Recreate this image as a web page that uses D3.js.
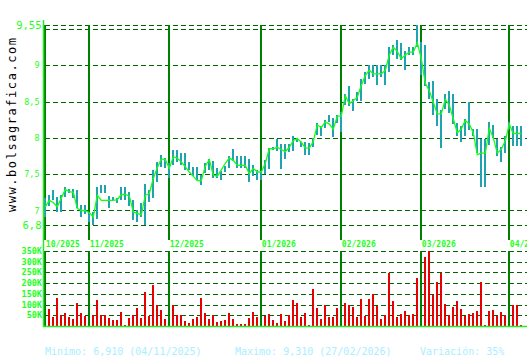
<!DOCTYPE html>
<html><head><meta charset="utf-8">
<script src="https://cdn.jsdelivr.net/npm/d3@7"></script>
<style>html,body{margin:0;padding:0;background:#fff;}svg{display:block;}</style>
</head><body>
<script>
const closes = [7.05,7.14,7.11,7.05,7.17,7.29,7.26,7.25,7.03,7.00,7.00,6.97,6.91,7.21,7.14,7.14,7.14,7.14,7.15,7.22,7.22,7.20,6.98,6.96,6.94,7.21,7.23,7.44,7.59,7.71,7.70,7.58,7.74,7.72,7.67,7.60,7.53,7.47,7.41,7.41,
7.61,7.70,7.49,7.47,7.56,7.65,7.72,7.69,7.62,7.62,7.62,7.51,7.58,7.53,7.53,7.65,7.85,7.85,7.87,7.84,7.81,7.87,7.96,7.99,7.94,7.86,7.86,7.95,8.18,8.14,8.22,8.19,8.12,8.30,8.30,8.58,8.47,8.51,8.56,
8.72,8.86,8.93,8.88,8.88,8.88,8.93,9.14,9.25,9.19,9.09,9.14,9.18,9.18,9.31,9.09,8.75,8.65,8.49,8.33,8.33,8.53,8.45,8.26,8.07,8.12,8.24,8.19,8.07,7.77,7.79,7.79,8.13,8.00,7.79,7.84,7.96,8.19,8.06,8.06,8.06];
const highs = [7.17,7.22,7.28,7.19,7.21,7.33,7.30,7.30,7.28,7.07,7.07,6.97,6.98,7.33,7.35,7.35,7.20,7.19,7.17,7.32,7.32,7.26,7.14,7.00,7.10,7.37,7.28,7.56,7.67,7.76,7.72,7.65,7.83,7.83,7.79,7.79,7.67,7.60,7.60,7.49,
7.65,7.71,7.68,7.58,7.55,7.61,7.75,7.84,7.75,7.75,7.75,7.71,7.62,7.56,7.54,7.70,7.86,7.88,7.98,7.92,7.91,7.92,8.02,8.00,7.94,7.94,7.93,8.00,8.21,8.16,8.25,8.31,8.28,8.32,8.36,8.61,8.72,8.53,8.63,
8.81,8.91,9.00,9.00,9.00,9.00,9.00,9.25,9.28,9.35,9.31,9.19,9.25,9.25,9.55,9.32,9.28,8.77,8.78,8.53,8.38,8.61,8.65,8.61,8.21,8.16,8.26,8.50,8.12,8.12,7.98,7.98,8.22,8.18,7.98,7.87,8.03,8.22,8.17,8.17,8.17];
const lows = [6.91,7.07,7.14,6.98,6.98,7.19,7.24,7.17,7.03,6.91,6.94,6.85,6.80,6.89,7.24,7.24,7.03,7.14,7.10,7.14,7.14,7.07,6.87,6.83,6.91,6.81,7.12,7.17,7.40,7.60,7.58,7.44,7.63,7.67,7.63,7.56,7.56,7.47,7.42,7.35,
7.51,7.56,7.44,7.44,7.42,7.53,7.58,7.68,7.58,7.58,7.58,7.40,7.47,7.42,7.42,7.51,7.57,7.84,7.82,7.58,7.71,7.81,7.81,7.94,7.87,7.76,7.76,7.88,8.05,8.02,8.14,8.21,8.02,8.21,8.09,8.46,8.44,8.37,8.51,
8.51,8.75,8.81,8.84,8.73,8.84,8.72,8.91,9.14,9.09,9.08,8.93,9.14,9.14,9.25,8.86,8.72,8.54,8.31,8.16,7.85,8.40,8.35,8.19,8.03,7.94,8.03,8.12,8.03,7.79,7.32,7.32,7.91,8.00,7.75,7.66,7.79,8.13,7.90,7.90,7.90];
const volumes = [75,79,42,131,51,61,42,33,107,61,47,40,51,121,51,51,37,28,28,65,5,37,51,84,37,159,47,191,98,75,33,45,98,51,51,23,14,33,42,131,
61,33,51,19,23,28,61,33,9,9,9,37,65,42,40,47,56,28,14,56,23,51,121,107,42,61,5,173,84,33,98,42,42,84,131,107,98,89,42,
126,47,126,149,93,33,51,249,117,42,56,70,51,56,224,280,322,350,145,205,247,103,51,89,117,79,47,56,61,70,205,5,70,75,47,65,51,50,98,98,5];
const monthLabels = ["10/2025","11/2025","12/2025","01/2026","02/2026","03/2026","04/2026"];
const monthStarts = [0,11,31,54,74,94,116];
const priceGrid = [6.8,7,7.5,8,8.5,9,9.5,9.55];
const priceLabels = [
  {v:9.55,t:"9,55",big:true},{v:9,t:"9"},{v:8.5,t:"8,5"},{v:8,t:"8"},
  {v:7.5,t:"7,5"},{v:7,t:"7"},{v:6.8,t:"6,8",big:true}];
const volTicks = [50,100,150,200,250,300,350];
const footer = ["Minimo: 6,910 (04/11/2025)","Maximo: 9,310 (27/02/2026)","Variación: 35%"];
const watermark = "www.bolsagrafica.com";

const W = 530, H = 360;
const svg = d3.select("body").append("svg").attr("width", W).attr("height", H)
  .style("font-family", "'DejaVu Sans Mono', monospace");

const x = d3.scaleLinear().domain([0, closes.length - 1]).range([45.3, 521.3]);
const y = d3.scaleLinear().domain([6.8, 9.55]).range([225, 25.3]);
const yv = d3.scaleLinear().domain([0, 350]).range([326, 251]);
const gridL = 45, gridR = 527;
const xi = i => Math.round(x(i));

svg.append("defs").append("clipPath").attr("id","clipR")
  .append("rect").attr("x",0).attr("y",0).attr("width",527).attr("height",H);

// watermark
svg.append("text")
  .attr("transform", "translate(16,212) rotate(-90)")
  .attr("font-size", 12).attr("fill", "#000")
  .attr("textLength", 174).attr("lengthAdjust", "spacing")
  .text(watermark);

// price grid
svg.append("g").selectAll("line").data(priceGrid).join("line")
  .attr("x1", gridL).attr("x2", gridR)
  .attr("y1", d => Math.round(y(d)) + 0.5).attr("y2", d => Math.round(y(d)) + 0.5)
  .attr("stroke", "#006400").attr("stroke-width", 1).attr("stroke-dasharray", "5,3");

// volume grid
svg.append("g").selectAll("line").data(volTicks).join("line")
  .attr("x1", gridL).attr("x2", gridR)
  .attr("y1", d => Math.round(yv(d)) + 0.5).attr("y2", d => Math.round(yv(d)) + 0.5)
  .attr("stroke", "#006400").attr("stroke-width", 1).attr("stroke-dasharray", "5,3");

// volume bars
svg.append("g").selectAll("rect").data(volumes).join("rect")
  .attr("x", (d,i) => xi(i) - 1).attr("width", 2)
  .attr("y", d => Math.round(yv(d))).attr("height", d => 326 - Math.round(yv(d)))
  .attr("fill", "#e80000");

// month lines
const mg = svg.append("g");
mg.selectAll("rect.p").data(monthStarts).join("rect").attr("class","p")
  .attr("x", d => xi(d) - 1).attr("width", 2)
  .attr("y", 25).attr("height", 215)
  .attr("fill", "#008000");
mg.selectAll("rect.v").data(monthStarts).join("rect").attr("class","v")
  .attr("x", d => xi(d) - 1).attr("width", 2)
  .attr("y", yv(350)).attr("height", yv(0) - yv(350))
  .attr("fill", "#008000");

// month labels
svg.append("g").attr("clip-path","url(#clipR)").selectAll("text").data(monthLabels).join("text")
  .attr("x", (d,i) => x(monthStarts[i]) + 0.5).attr("y", 247)
  .attr("font-size", 9.5).attr("font-weight", "bold").attr("fill", "#22ff22")
  .attr("textLength", 34).attr("lengthAdjust", "spacingAndGlyphs")
  .text(d => d);

// high-low bars
svg.append("g").selectAll("rect").data(closes).join("rect")
  .attr("x", (d,i) => xi(i) - 1).attr("width", 2)
  .attr("y", (d,i) => Math.round(y(highs[i]))).attr("height", (d,i) => Math.round(y(lows[i]) - y(highs[i])))
  .attr("fill", "#1fa3b0");

// close line
svg.append("path").datum(closes)
  .attr("d", d3.line().x((d,i) => x(i)).y(d => y(d)))
  .attr("fill", "none").attr("stroke", "#11ff11").attr("stroke-width", 1.3);

// left axis line and volume baseline
svg.append("line").attr("x1", 43.5).attr("x2", 43.5).attr("y1", 20).attr("y2", 327)
  .attr("stroke", "#22ee22").attr("stroke-width", 1.5);
svg.append("line").attr("x1", 43).attr("x2", 527).attr("y1", 326.5).attr("y2", 326.5)
  .attr("stroke", "#22ee22").attr("stroke-width", 1.5);

// price labels
svg.append("g").selectAll("text").data(priceLabels).join("text")
  .attr("x", d => d.big ? 41.5 : 39.5).attr("y", d => y(d.v))
  .attr("dy", "0.36em").attr("text-anchor", "end")
  .attr("font-size", d => d.big ? 10.5 : 8.5).attr("fill", "#22ff22")
  .text(d => d.t);

// volume labels
svg.append("g").selectAll("text").data(volTicks).join("text")
  .attr("x", 42).attr("y", d => yv(d))
  .attr("dy", "0.36em").attr("text-anchor", "end")
  .attr("font-size", 8.5).attr("font-weight", "bold").attr("fill", "#22ff22")
  .text(d => d + "K");

// footer
const fx = [45, 235, 420];
svg.append("g").selectAll("text").data(footer).join("text")
  .attr("x", (d,i) => fx[i]).attr("y", 355)
  .attr("font-size", 10).attr("fill", "#aaeeff")
  .text(d => d);
</script>
</body></html>
